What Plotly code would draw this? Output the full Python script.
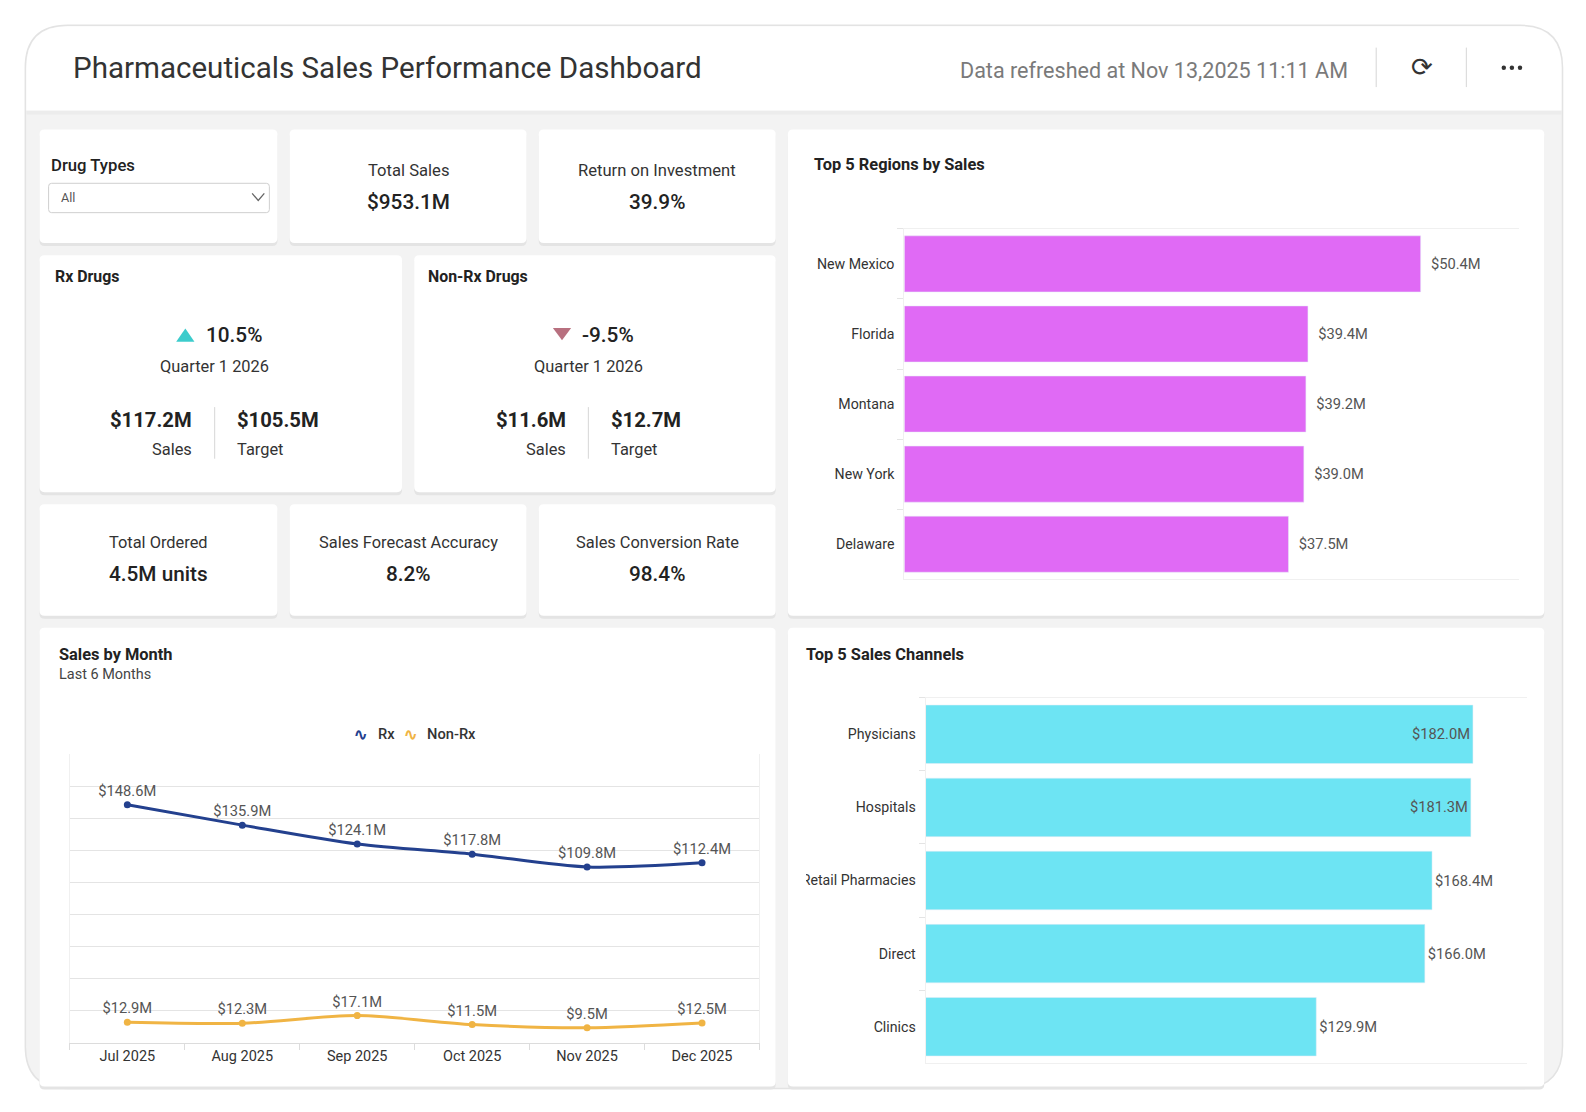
import plotly.graph_objects as go

# the page is photographed slightly shrunk and the body keeps an 8px margin,
# so positions taken from the picture are scaled by S and shifted by OFF
S = 1 / 0.9875
OFF = 8
W, H = 1580, 1100

# data
months = ["Jul 2025", "Aug 2025", "Sep 2025", "Oct 2025", "Nov 2025", "Dec 2025"]
rx_sales = [148.6, 135.9, 124.1, 117.8, 109.8, 112.4]
nonrx_sales = [12.9, 12.3, 17.1, 11.5, 9.5, 12.5]

regions = ["New Mexico", "Florida", "Montana", "New York", "Delaware"]
region_sales = [50.4, 39.4, 39.2, 39.0, 37.5]

channels = ["Physicians", "Hospitals", "Retail Pharmacies", "Direct", "Clinics"]
channel_sales = [182.0, 181.3, 168.4, 166.0, 129.9]

kpi_top = [("Total Sales", "$953.1M"), ("Return on Investment", "39.9%")]
kpi_bottom = [("Total Ordered", "4.5M units"), ("Sales Forecast Accuracy", "8.2%"),
              ("Sales Conversion Rate", "98.4%")]
rx_card = ("Rx Drugs", "10.5%", "Quarter 1 2026", "$117.2M", "$105.5M")
nonrx_card = ("Non-Rx Drugs", "-9.5%", "Quarter 1 2026", "$11.6M", "$12.7M")

FONT = "Roboto"
RX_COL = "#23408e"
NONRX_COL = "#f0b444"


def px(x):
    return (x * S - OFF) / W


def py(y):
    return 1 - (y * S - OFF) / H


def fs(size):
    return size * S


def money(v):
    return "$%.1fM" % v


def rrect(x0, y0, x1, y1, r, fill, line=None, lw=0, top_only=False, layer="below"):
    X0, X1, Y0, Y1 = px(x0), px(x1), py(y0), py(y1)
    rx, ry = r * S / W, r * S / H
    if top_only:
        p = (f"M{X0},{Y1} L{X0},{Y0-ry} Q{X0},{Y0} {X0+rx},{Y0} L{X1-rx},{Y0} "
             f"Q{X1},{Y0} {X1},{Y0-ry} L{X1},{Y1} Z")
    else:
        p = (f"M{X0+rx},{Y0} L{X1-rx},{Y0} Q{X1},{Y0} {X1},{Y0-ry} L{X1},{Y1+ry} "
             f"Q{X1},{Y1} {X1-rx},{Y1} L{X0+rx},{Y1} Q{X0},{Y1} {X0},{Y1+ry} "
             f"L{X0},{Y0-ry} Q{X0},{Y0} {X0+rx},{Y0} Z")
    return dict(type="path", path=p, xref="paper", yref="paper", fillcolor=fill,
                line=dict(color=line or fill, width=lw), layer=layer)


def card(x0, y0, x1, y1):
    return [rrect(x0, y0 + 2, x1, y1 + 3, 5, "#e4e4e4"),
            rrect(x0, y0, x1, y1, 5, "white")]


def vline(x, y0, y1, color="#d6d6d6", w=1):
    return dict(type="line", xref="paper", yref="paper", x0=px(x), x1=px(x),
                y0=py(y0), y1=py(y1), line=dict(color=color, width=w), layer="below")


def dot(cx, cy, r, color):
    return dict(type="circle", xref="paper", yref="paper", x0=px(cx - r), x1=px(cx + r),
                y0=py(cy + r), y1=py(cy - r), fillcolor=color, line=dict(width=0),
                layer="above")


def triangle(cx, cy, w, h, up, color):
    if up:
        pts = [(cx - w / 2, cy + h / 2), (cx + w / 2, cy + h / 2), (cx, cy - h / 2)]
    else:
        pts = [(cx - w / 2, cy - h / 2), (cx + w / 2, cy - h / 2), (cx, cy + h / 2)]
    p = "M" + " L".join(f"{px(a)},{py(b)}" for a, b in pts) + " Z"
    return dict(type="path", path=p, xref="paper", yref="paper", fillcolor=color,
                line=dict(width=0), layer="above")


annotations = []


def txt(x, y, s, size=15, color="#333", anchor="center", weight="normal"):
    annotations.append(dict(x=px(x), y=py(y), xref="paper", yref="paper", text=s,
                            showarrow=False, xanchor=anchor, yanchor="middle",
                            font=dict(family=FONT, size=fs(size), color=color,
                                      weight=weight)))


shapes = []
# outer frame and header
shapes.append(rrect(25, 25, 1543, 1075, 42, "#f3f3f3", "#e3e3e3", 1.5))
shapes.append(rrect(26, 109, 1542, 113, 0, "#ececec"))
shapes.append(rrect(26, 26, 1542, 109, 41, "white", top_only=True))
shapes.append(vline(1359, 47, 86))
shapes.append(vline(1448, 47, 86))
for cx in [1485, 1493, 1501]:
    shapes.append(dot(cx, 67, 2.2, "#333"))

# cards
for box in [(39, 128, 274, 240), (286, 128, 520, 240), (532, 128, 766, 240),
            (39, 252, 397, 486), (409, 252, 766, 486),
            (39, 498, 274, 608), (286, 498, 520, 608), (532, 498, 766, 608),
            (778, 128, 1525, 608), (39, 620, 766, 1073), (778, 620, 1525, 1073)]:
    shapes += card(*box)

# dropdown
shapes.append(rrect(48, 181, 266, 210, 3, "white", "#cfcfcf", 1))
shapes.append(dict(type="path", xref="paper", yref="paper",
                   path=f"M{px(249)},{py(191)} L{px(255)},{py(198)} L{px(261)},{py(191)}",
                   line=dict(color="#666", width=1.3), layer="below"))

# Rx / Non-Rx separators and trend triangles
shapes.append(vline(212, 402, 453))
shapes.append(vline(581, 402, 453))
shapes.append(triangle(183, 331, 18, 13, True, "#3ccccc"))
shapes.append(triangle(555, 330, 18, 12, False, "#b8707f"))

# the channel chart clips its longest label at the card's inner edge
shapes.append(rrect(779, 855, 796, 884, 0, "white", layer="above"))

# header text
txt(70, 67, "Pharmaceuticals Sales Performance Dashboard", 29.2, "#333", "left")
txt(1333, 70, "Data refreshed at Nov 13,2025 11:11 AM", 21.3, "#7a7a7a", "right")
txt(1404, 66, "⟳", 26, "#333")

# drug types
txt(48, 163, "Drug Types", 16.5, "#222", "left", 500)
txt(58, 195, "All", 12.5, "#555", "left")

# top KPIs
for (label, val), cx in zip(kpi_top, [403, 649]):
    txt(cx, 168, label, 16.4, "#333")
    txt(cx, 199, val, 20.5, "#222", weight=500)

# bottom KPIs
for (label, val), cx in zip(kpi_bottom, [157, 403, 649]):
    txt(cx, 536, label, 16.2, "#333")
    txt(cx, 567, val, 20.5, "#222", weight=500)

# Rx / Non-Rx cards
for c, left, tx, sep in [(rx_card, 52, 183, 212), (nonrx_card, 421, 555, 581)]:
    title, pct, period, sales, target = c
    txt(left, 273, title, 15.7, "#222", "left", "bold")
    txt(tx + 18, 331, pct, 20.5, "#222", "left", 500)
    txt(sep, 362, period, 16.2, "#333")
    txt(sep - 20, 415, sales, 20, "#222", "right", "bold")
    txt(sep - 20, 444, "Sales", 16.2, "#333", "right")
    txt(sep + 20, 415, target, 20, "#222", "left", "bold")
    txt(sep + 20, 444, "Target", 16.2, "#333", "left")

# chart titles
txt(802, 162, "Top 5 Regions by Sales", 16.2, "#222", "left", "bold")
txt(56, 646, "Sales by Month", 16.2, "#222", "left", "bold")
txt(56, 666, "Last 6 Months", 14.3, "#444", "left")
txt(794, 646, "Top 5 Sales Channels", 16.2, "#222", "left", "bold")

# custom legend for the month chart
txt(356, 725, "∿", 16, RX_COL, weight="bold")
txt(371, 725, "Rx", 14.5, "#333", "left", 500)
txt(405, 725, "∿", 16, NONRX_COL, weight="bold")
txt(420, 725, "Non-Rx", 14.5, "#333", "left", 500)

fig = go.Figure()

# line chart
for name, vals, col in [("Rx", rx_sales, RX_COL), ("Non-Rx", nonrx_sales, NONRX_COL)]:
    fig.add_trace(go.Scatter(
        x=months, y=vals, name=name, mode="lines+markers+text",
        line=dict(color=col, width=3, shape="spline", smoothing=0.8),
        marker=dict(size=7, color=col),
        text=[money(v) for v in vals], textposition="top center",
        textfont=dict(family=FONT, size=fs(14.5), color="#555"),
        xaxis="x", yaxis="y", cliponaxis=False, showlegend=False))

# regions bar
fig.add_trace(go.Bar(
    y=regions, x=region_sales, orientation="h", marker=dict(color="#e06af5"),
    text=["\u00a0\u00a0" + money(v) for v in region_sales], textposition="outside",
    textfont=dict(family=FONT, size=fs(14.5), color="#555"),
    xaxis="x2", yaxis="y2", showlegend=False, cliponaxis=False))

# channels bar
fig.add_trace(go.Bar(
    y=channels, x=channel_sales, orientation="h", marker=dict(color="#6de4f3"),
    text=[money(v) for v in channel_sales],
    textposition=["inside", "inside", "outside", "outside", "outside"],
    insidetextanchor="end",
    insidetextfont=dict(family=FONT, size=fs(14.5), color="#555"),
    outsidetextfont=dict(family=FONT, size=fs(14.5), color="#555"),
    xaxis="x3", yaxis="y3", showlegend=False, cliponaxis=False))

fig.update_layout(
    width=W, height=H, margin=dict(l=0, r=0, t=0, b=0),
    paper_bgcolor="white", plot_bgcolor="rgba(0,0,0,0)",
    font=dict(family=FONT, size=fs(14), color="#333"),
    shapes=shapes, annotations=annotations, bargap=0.2, showlegend=False,
    xaxis=dict(domain=[px(69), px(750)], anchor="y", range=[-0.5, 5.5],
               showgrid=False, showline=True, linecolor="#dcdcdc",
               ticks="outside", tickson="boundaries", ticklen=6, tickcolor="#dcdcdc",
               tickfont=dict(size=fs(14.3), color="#333")),
    yaxis=dict(domain=[py(1030), py(745)], anchor="x", range=[0, 180], dtick=20,
               showticklabels=False, gridcolor="#e4e4e4", zeroline=False,
               showline=True, mirror=True, linecolor="#f0f0f0"),
    xaxis2=dict(domain=[px(893), px(1500)], anchor="y2", range=[0, 60],
                showgrid=False, showticklabels=False, zeroline=False,
                showline=True, mirror=True, linecolor="#f0f0f0"),
    yaxis2=dict(domain=[py(572), py(226)], anchor="x2", autorange="reversed",
                showgrid=False, ticks="outside", tickson="boundaries", ticklen=6,
                tickcolor="#e4e4e4", showline=True, linecolor="#f0f0f0",
                ticklabelstandoff=6, tickfont=dict(size=fs(14), color="#333")),
    xaxis3=dict(domain=[px(914), px(1508)], anchor="y3", range=[0, 200],
                showgrid=False, showticklabels=False, zeroline=False,
                showline=True, mirror=True, linecolor="#f0f0f0"),
    yaxis3=dict(domain=[py(1050), py(689)], anchor="x3", autorange="reversed",
                showgrid=False, ticks="outside", tickson="boundaries", ticklen=6,
                tickcolor="#e4e4e4", showline=True, linecolor="#f0f0f0",
                ticklabelstandoff=6, tickfont=dict(size=fs(14), color="#333")),
)

fig.write_html("out.html")
